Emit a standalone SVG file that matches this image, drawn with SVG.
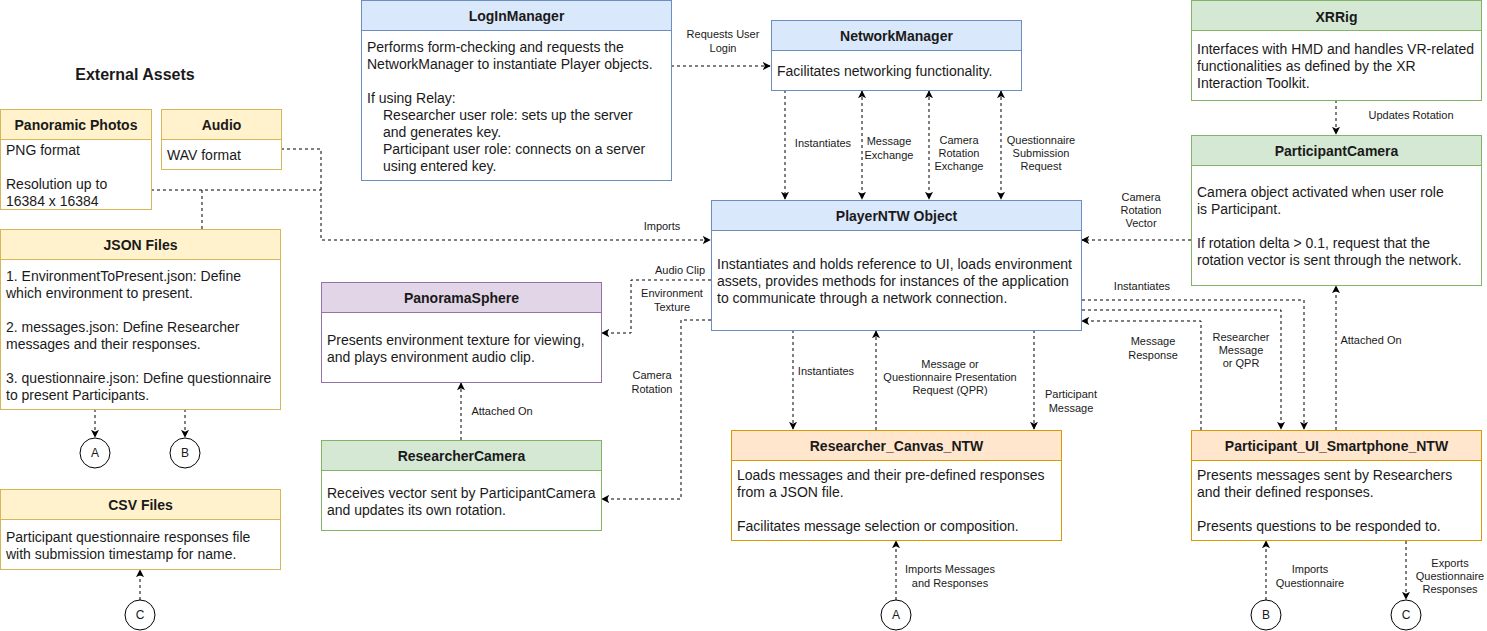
<svg xmlns="http://www.w3.org/2000/svg" width="1487" height="631" viewBox="0 0 1487 631">
<defs>
<marker id="arr" viewBox="0 0 10 10" refX="9" refY="5" markerWidth="8" markerHeight="8" markerUnits="userSpaceOnUse" orient="auto-start-reverse">
<path d="M0,0 L10,5 L0,10 L2.5,5 z" fill="#000"/>
</marker>
<style>
text{font-family:"Liberation Sans",Arial,sans-serif;fill:#1a1a1a}
.h{font-size:14px;font-weight:bold;text-anchor:middle}
.b{font-size:14px}
.l{font-size:11px;text-anchor:middle}
.t{font-size:16px;font-weight:bold;text-anchor:middle}
.c{font-size:12px;text-anchor:middle}
.e{fill:none;stroke:#000;stroke-width:1;stroke-dasharray:3 3}
.ea{marker-end:url(#arr)}
.eb{marker-start:url(#arr);marker-end:url(#arr)}
.yh{fill:#fff2cc;stroke:#d6b656}.yb{fill:#fff;stroke:#d6b656}
.bh{fill:#dae8fc;stroke:#6c8ebf}.bb{fill:#fff;stroke:#6c8ebf}
.ph{fill:#e1d5e7;stroke:#9673a6}.pb{fill:#fff;stroke:#9673a6}
.gh{fill:#d5e8d4;stroke:#82b366}.gb{fill:#fff;stroke:#82b366}
.oh{fill:#ffe6cc;stroke:#d79b00}.ob{fill:#fff;stroke:#d79b00}
.cir{fill:#fff;stroke:#000}
</style>
</defs>
<rect width="1487" height="631" fill="#fff"/>

<g id="connectors">
<path class="e" d="M151,190 H321"/>
<path class="e" d="M202,229 V190"/>
<path class="e ea" d="M281,149 H321 V240 H710"/>
<text class="l" x="662" y="230">Imports</text>
<path class="e ea" d="M95,409 V437"/>
<path class="e ea" d="M185,409 V437"/>
<path class="e ea" d="M140,600 V570"/>
<path class="e ea" d="M671,66 H770"/>
<text class="l" x="723" y="38">Requests User</text>
<text class="l" x="723" y="52">Login</text>
<path class="e ea" d="M785,90 V199"/>
<text class="l" x="823" y="147">Instantiates</text>
<path class="e eb" d="M862,91 V199"/>
<text class="l" x="889" y="145">Message</text>
<text class="l" x="889" y="159">Exchange</text>
<path class="e eb" d="M929,91 V199"/>
<text class="l" x="959" y="144">Camera</text>
<text class="l" x="959" y="157">Rotation</text>
<text class="l" x="959" y="170">Exchange</text>
<path class="e eb" d="M1001,91 V199"/>
<text class="l" x="1041" y="144">Questionnaire</text>
<text class="l" x="1041" y="157">Submission</text>
<text class="l" x="1041" y="170">Request</text>
<path class="e ea" d="M1336,100 V134"/>
<text class="l" x="1411" y="119">Updates Rotation</text>
<path class="e ea" d="M1191,240 H1082"/>
<text class="l" x="1141" y="201">Camera</text>
<text class="l" x="1141" y="214">Rotation</text>
<text class="l" x="1141" y="227">Vector</text>
<path class="e ea" d="M711,280 H631 V333 H602"/>
<text class="l" x="680" y="274">Audio Clip</text>
<text class="l" x="672" y="297">Environment</text>
<text class="l" x="672" y="311">Texture</text>
<path class="e ea" d="M711,320 H681 V499 H602"/>
<text class="l" x="652" y="379">Camera</text>
<text class="l" x="652" y="393">Rotation</text>
<path class="e ea" d="M461,440 V383"/>
<text class="l" x="502" y="415">Attached On</text>
<path class="e ea" d="M793,330 V429"/>
<text class="l" x="826" y="375">Instantiates</text>
<path class="e ea" d="M876,430 V331"/>
<text class="l" x="950" y="368">Message or</text>
<text class="l" x="950" y="381">Questionnaire Presentation</text>
<text class="l" x="950" y="394">Request (QPR)</text>
<path class="e ea" d="M1034,330 V429"/>
<text class="l" x="1071" y="398">Participant</text>
<text class="l" x="1071" y="412">Message</text>
<path class="e ea" d="M896,600 V541"/>
<text class="l" x="950" y="573">Imports Messages</text>
<text class="l" x="950" y="587">and Responses</text>
<path class="e ea" d="M1082,300 H1304 V429"/>
<text class="l" x="1142" y="290">Instantiates</text>
<path class="e ea" d="M1082,310 H1281 V429"/>
<text class="l" x="1241" y="341">Researcher</text>
<text class="l" x="1241" y="354">Message</text>
<text class="l" x="1241" y="367">or QPR</text>
<path class="e ea" d="M1201,430 V321 H1082"/>
<text class="l" x="1153" y="345">Message</text>
<text class="l" x="1153" y="359">Response</text>
<path class="e ea" d="M1336,430 V286"/>
<text class="l" x="1371" y="344">Attached On</text>
<path class="e ea" d="M1266,600 V541"/>
<text class="l" x="1310" y="573">Imports</text>
<text class="l" x="1310" y="587">Questionnaire</text>
<path class="e ea" d="M1406,541 V599"/>
<text class="l" x="1450" y="567">Exports</text>
<text class="l" x="1450" y="580">Questionnaire</text>
<text class="l" x="1450" y="593">Responses</text>
</g>

<g id="external-assets-title"><text class="t" x="135" y="80">External Assets</text></g>

<g id="panoramic-photos">
<rect class="yb" x="0.5" y="109.5" width="151" height="100"/>
<rect class="yh" x="0.5" y="109.5" width="151" height="30"/>
<text class="h" x="76" y="130">Panoramic Photos</text>
<text class="b" x="6" y="155">PNG format</text>
<text class="b" x="6" y="189">Resolution up to</text>
<text class="b" x="6" y="206">16384 x 16384</text>
</g>

<g id="audio">
<rect class="yb" x="161.5" y="109.5" width="120" height="60"/>
<rect class="yh" x="161.5" y="109.5" width="120" height="30"/>
<text class="h" x="221.5" y="130">Audio</text>
<text class="b" x="167" y="160">WAV format</text>
</g>

<g id="json-files">
<rect class="yb" x="0.5" y="229.5" width="280" height="180"/>
<rect class="yh" x="0.5" y="229.5" width="280" height="30"/>
<text class="h" x="140.5" y="250">JSON Files</text>
<text class="b" x="6" y="281">1. EnvironmentToPresent.json: Define</text>
<text class="b" x="6" y="298">which environment to present.</text>
<text class="b" x="6" y="332">2. messages.json: Define Researcher</text>
<text class="b" x="6" y="349">messages and their responses.</text>
<text class="b" x="6" y="383">3. questionnaire.json: Define questionnaire</text>
<text class="b" x="6" y="400">to present Participants.</text>
</g>

<g id="csv-files">
<rect class="yb" x="0.5" y="489.5" width="280" height="80"/>
<rect class="yh" x="0.5" y="489.5" width="280" height="30"/>
<text class="h" x="140.5" y="510">CSV Files</text>
<text class="b" x="6" y="542">Participant questionnaire responses file</text>
<text class="b" x="6" y="559">with submission timestamp for name.</text>
</g>

<g id="circle-a-left"><circle class="cir" cx="95" cy="453" r="15"/><text class="c" x="95" y="457">A</text></g>
<g id="circle-b-left"><circle class="cir" cx="185" cy="453" r="15"/><text class="c" x="185" y="457">B</text></g>
<g id="circle-c-left"><circle class="cir" cx="140" cy="615" r="15"/><text class="c" x="140" y="619">C</text></g>

<g id="loginmanager">
<rect class="bb" x="361.5" y="0.5" width="310" height="180"/>
<rect class="bh" x="361.5" y="0.5" width="310" height="30"/>
<text class="h" x="516.5" y="21">LogInManager</text>
<text class="b" x="367" y="52">Performs form-checking and requests the</text>
<text class="b" x="367" y="69">NetworkManager to instantiate Player objects.</text>
<text class="b" x="367" y="103">If using Relay:</text>
<text class="b" x="383" y="120">Researcher user role: sets up the server</text>
<text class="b" x="383" y="137">and generates key.</text>
<text class="b" x="383" y="154">Participant user role: connects on a server</text>
<text class="b" x="383" y="171">using entered key.</text>
</g>

<g id="networkmanager">
<rect class="bb" x="771.5" y="20.5" width="250" height="70"/>
<rect class="bh" x="771.5" y="20.5" width="250" height="30"/>
<text class="h" x="896.5" y="41">NetworkManager</text>
<text class="b" x="777" y="76">Facilitates networking functionality.</text>
</g>

<g id="playerntw">
<rect class="bb" x="711.5" y="200.5" width="370" height="130"/>
<rect class="bh" x="711.5" y="200.5" width="370" height="30"/>
<text class="h" x="896.5" y="221">PlayerNTW Object</text>
<text class="b" x="717" y="269">Instantiates and holds reference to UI, loads environment</text>
<text class="b" x="717" y="286">assets, provides methods for instances of the application</text>
<text class="b" x="717" y="303">to communicate through a network connection.</text>
</g>

<g id="panoramasphere">
<rect class="pb" x="321.5" y="282.5" width="280" height="100"/>
<rect class="ph" x="321.5" y="282.5" width="280" height="30"/>
<text class="h" x="461.5" y="303">PanoramaSphere</text>
<text class="b" x="327" y="345">Presents environment texture for viewing,</text>
<text class="b" x="327" y="362">and plays environment audio clip.</text>
</g>

<g id="researchercamera">
<rect class="gb" x="321.5" y="440.5" width="280" height="90"/>
<rect class="gh" x="321.5" y="440.5" width="280" height="30"/>
<text class="h" x="461.5" y="461">ResearcherCamera</text>
<text class="b" x="327" y="498">Receives vector sent by ParticipantCamera</text>
<text class="b" x="327" y="515">and updates its own rotation.</text>
</g>

<g id="researcher-canvas-ntw">
<rect class="ob" x="731.5" y="430.5" width="330" height="110"/>
<rect class="oh" x="731.5" y="430.5" width="330" height="30"/>
<text class="h" x="896.5" y="451">Researcher_Canvas_NTW</text>
<text class="b" x="737" y="480">Loads messages and their pre-defined responses</text>
<text class="b" x="737" y="497">from a JSON file.</text>
<text class="b" x="737" y="531">Facilitates message selection or composition.</text>
</g>

<g id="circle-a-bottom"><circle class="cir" cx="896" cy="615" r="15"/><text class="c" x="896" y="619">A</text></g>

<g id="xrrig">
<rect class="gb" x="1191.5" y="0.5" width="290" height="100"/>
<rect class="gh" x="1191.5" y="0.5" width="290" height="30"/>
<text class="h" x="1336.5" y="22">XRRig</text>
<text class="b" x="1197" y="54">Interfaces with HMD and handles VR-related</text>
<text class="b" x="1197" y="71">functionalities as defined by the XR</text>
<text class="b" x="1197" y="88">Interaction Toolkit.</text>
</g>

<g id="participantcamera">
<rect class="gb" x="1191.5" y="135.5" width="290" height="150"/>
<rect class="gh" x="1191.5" y="135.5" width="290" height="30"/>
<text class="h" x="1336.5" y="156">ParticipantCamera</text>
<text class="b" x="1197" y="197">Camera object activated when user role</text>
<text class="b" x="1197" y="214">is Participant.</text>
<text class="b" x="1197" y="248">If rotation delta &gt; 0.1, request that the</text>
<text class="b" x="1197" y="265">rotation vector is sent through the network.</text>
</g>

<g id="participant-ui-smartphone-ntw">
<rect class="ob" x="1191.5" y="430.5" width="290" height="110"/>
<rect class="oh" x="1191.5" y="430.5" width="290" height="30"/>
<text class="h" x="1336.5" y="451">Participant_UI_Smartphone_NTW</text>
<text class="b" x="1197" y="480">Presents messages sent by Researchers</text>
<text class="b" x="1197" y="497">and their defined responses.</text>
<text class="b" x="1197" y="531">Presents questions to be responded to.</text>
</g>

<g id="circle-b-bottom"><circle class="cir" cx="1266" cy="615" r="15"/><text class="c" x="1266" y="619">B</text></g>
<g id="circle-c-bottom"><circle class="cir" cx="1406" cy="615" r="15"/><text class="c" x="1406" y="619">C</text></g>
</svg>
